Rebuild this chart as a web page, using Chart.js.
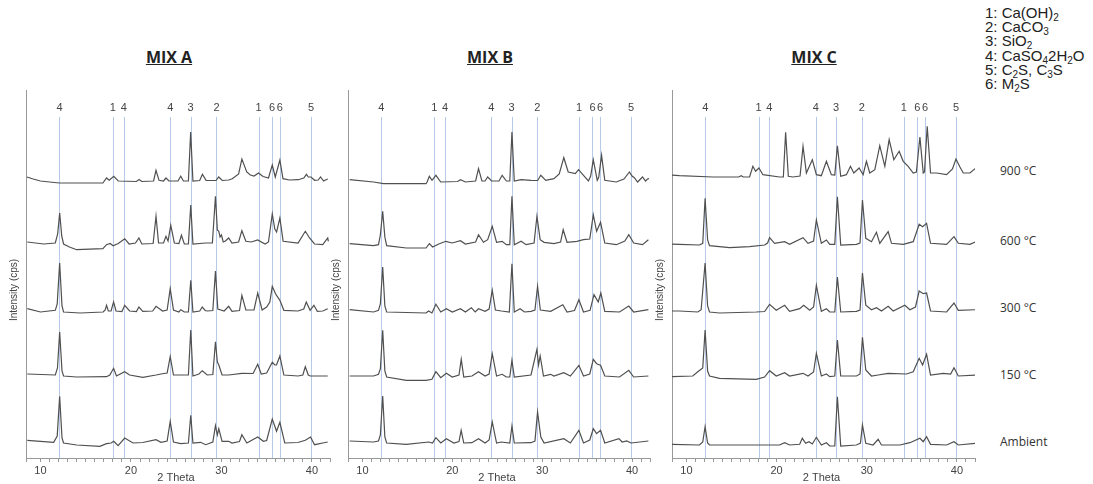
<!DOCTYPE html>
<html><head><meta charset="utf-8">
<script src="https://cdn.jsdelivr.net/npm/chart.js@4.4.1/dist/chart.umd.min.js"></script>
<style>
html,body{margin:0;padding:0;background:#fff;}
body{width:1093px;height:484px;position:relative;overflow:hidden;font-family:"Liberation Sans",Arial,sans-serif;}
canvas{position:absolute;top:0;}
.title{position:absolute;top:46px;font:700 16px "Open Sans",sans-serif;text-decoration:underline;color:#222;transform:translateX(-50%);white-space:nowrap;}
.legend{position:absolute;left:985px;top:6px;font:15px "Liberation Sans",Arial,sans-serif;color:#222;line-height:14.2px;white-space:nowrap;}
.legend sub{font-size:10px;vertical-align:-3px;line-height:0;}
.temp{position:absolute;left:1000px;font:12px "Open Sans",sans-serif;color:#333;transform:translateY(-50%);white-space:nowrap;}
</style></head>
<body>
<div class="title" style="left:169px">MIX A</div>
<div class="title" style="left:490px">MIX B</div>
<div class="title" style="left:814px">MIX C</div>
<div class="legend">
<div>1: Ca(OH)<sub>2</sub></div>
<div>2: CaCO<sub>3</sub></div>
<div>3: SiO<sub>2</sub></div>
<div>4: CaSO<sub>4</sub>2H<sub>2</sub>O</div>
<div>5: C<sub>2</sub>S, C<sub>3</sub>S</div>
<div>6: M<sub>2</sub>S</div>
</div>
<div id="temps"></div>
<canvas id="cA"></canvas>
<canvas id="cB"></canvas>
<canvas id="cC"></canvas>
<script>
// ---- DATA (2θ in degrees, intensity, arbitrary units above each trace's baseline) ----
const temperatureLabels = ['Ambient', '150 °C', '300 °C', '600 °C', '900 °C'];
const panelTitles = ['MIX A', 'MIX B', 'MIX C'];
const tickLabelValues = [10, 20, 30, 40];
const refPositions = [12.1, 18.0, 19.2, 24.35, 26.6, 29.45, 34.1, 35.6, 36.45, 39.9];
const refLabels = ['4', '1', '4', '4', '3', '2', '1', '6', '6', '5'];

const mixA_ambient = [[8.54,2.7],[11.46,0.7],[11.85,7],[12.12,46.7],[12.38,5],[12.55,0],[14.0,-2],[16.57,-3.3],[17.3,-0.7],[17.8,0],[18.1,1.7],[18.58,-2.7],[19.31,5],[20.22,0],[21.3,0.5],[22.77,3.3],[23.32,0.7],[24.0,2],[24.34,21.7],[24.7,1],[25.51,-0.7],[26.35,0],[26.61,27.7],[26.85,0],[27.7,0.7],[28.25,-1.7],[29.05,1],[29.34,17.3],[29.55,8],[29.71,14.3],[30.07,1.7],[30.8,1.7],[31.17,0],[32.0,1.5],[32.26,8.3],[32.81,0],[34.01,6],[34.64,1.7],[35.0,2.5],[35.62,24],[36.09,11.7],[36.46,20.7],[37.0,0],[38.47,0.5],[39.27,2.7],[39.85,6],[40.29,-1.7],[41.2,0],[41.75,1]];
const mixA_150 = [[8.54,2],[11.64,1],[11.88,8],[12.12,44],[12.38,5],[12.55,0],[14.0,-1],[17.3,-0.7],[17.66,1],[18.08,7.7],[18.4,0],[19.31,4.3],[19.85,1],[21.31,-1.3],[22.77,1],[23.32,2],[24.0,3],[24.34,19.3],[24.7,1],[25.51,1],[26.35,1],[26.61,46],[26.85,0],[27.52,2],[27.88,5.3],[28.43,1],[29.05,1.5],[29.34,34.3],[29.55,14],[29.71,11],[30.07,1],[30.8,1],[32.26,2.7],[33.5,2.5],[34.01,11.7],[34.4,2],[35.0,3],[35.62,13.7],[35.9,11],[36.09,11],[36.46,20],[36.9,1],[38.47,0],[39.0,1],[39.27,9.3],[39.6,1],[39.82,0],[41.75,0]];
const mixA_300 = [[8.54,3.3],[10.0,0],[11.64,1.7],[11.85,8],[12.12,49],[12.38,6],[12.55,0],[14.38,-1],[16.93,0],[17.15,2],[17.3,6.7],[17.5,1],[17.8,1],[18.08,10],[18.35,1],[19.0,0.5],[19.31,6.7],[19.85,1],[20.6,0.5],[20.88,5],[21.31,0.7],[22.4,1],[22.77,5.7],[23.5,1],[24.0,2],[24.34,23.3],[24.7,2],[25.3,0],[25.51,2.3],[25.9,0],[26.35,0],[26.61,31.7],[26.85,0],[27.6,1],[27.88,5],[28.2,1.5],[28.43,1],[29.05,1.5],[29.34,41],[29.6,3],[30.3,1],[30.8,5.7],[31.17,0.7],[32.0,1.5],[32.26,16.7],[32.7,2],[33.6,2],[34.01,19],[34.5,2],[35.0,5],[35.35,10],[35.62,25.7],[35.99,18],[36.46,11.7],[36.9,1.7],[38.47,1],[39.1,3],[39.38,10],[39.8,1.7],[40.22,6.7],[40.6,0.7],[41.2,1],[41.75,3.3]];
const mixA_600 = [[8.54,2],[10.36,0],[11.64,1],[11.9,10],[12.12,31],[12.35,8],[12.55,0],[13.2,-3],[14.0,-5.7],[16.9,-4.7],[17.3,-0.7],[17.7,0.5],[18.03,-1.7],[18.6,0.5],[19.31,5.3],[19.8,0],[20.5,1],[20.88,6],[21.2,0],[22.45,0.5],[22.77,27.7],[23.05,1],[23.6,1],[23.87,7.7],[24.1,3],[24.4,18.7],[24.8,1],[25.3,0.5],[25.58,8.7],[25.9,0],[26.35,0],[26.61,39],[26.85,0],[28.25,1],[29.0,1],[29.34,47.7],[29.55,14],[29.71,12.7],[29.85,7],[30.0,9],[30.2,2],[30.44,3],[30.8,6],[31.17,1],[31.9,2],[32.26,13.3],[32.7,2.7],[33.3,2],[34.01,4],[34.82,0],[35.2,2],[35.62,30],[35.9,15],[36.1,12],[36.46,26],[36.82,2.7],[38.47,1],[39.27,12.7],[39.74,6],[40.29,0],[41.2,-0.7],[41.75,6],[41.82,2.7]];
const mixA_900 = [[8.5,5],[9.2,3],[10.0,1],[11.0,0],[12.1,-1],[16.9,-1],[17.3,4],[17.6,1.7],[18.1,5.7],[18.6,1],[20.6,0.5],[20.9,2.5],[21.2,0.5],[22.5,1],[22.77,11.7],[23.1,1.7],[23.6,1],[23.87,4],[24.2,1],[25.2,1],[25.5,5.7],[25.8,1],[26.35,1],[26.6,50],[26.85,1],[27.6,1.5],[27.9,7.7],[28.3,1.7],[29.4,1.5],[29.7,5],[30.1,1.5],[30.8,2],[31.2,3.3],[31.9,8],[32.26,23],[32.8,10],[33.2,7],[33.6,6],[34.1,9],[34.6,5.5],[35.2,4],[35.62,17],[35.95,5],[36.46,22],[36.8,3.3],[37.5,2],[38.5,2.3],[39.1,4],[39.4,7.7],[39.6,5],[39.9,5],[40.3,1.7],[40.7,2],[40.95,5],[41.3,1],[41.5,2],[41.75,3]];

const mixB_ambient = [[8.58,2],[11.24,1],[11.79,2],[12.0,8],[12.26,47],[12.5,6],[12.7,0],[14.89,-1.3],[17.37,1],[17.8,0],[18.18,5.3],[18.72,0],[19.34,4.3],[20.18,0],[20.75,1.5],[20.99,12.7],[21.28,0],[22.19,0.3],[22.92,4.3],[23.65,0],[24.1,3],[24.45,21],[24.93,0],[25.47,1],[26.4,0],[26.64,17],[26.9,0],[28.76,0.3],[29.2,2],[29.49,31],[29.85,6],[30.22,0],[32.41,4.3],[33.14,0],[34.09,12.7],[34.6,0],[35.3,3],[35.69,14.3],[36.06,9.3],[36.5,12.7],[36.97,0],[38.54,4.3],[38.9,1],[39.42,2],[39.89,0],[41.82,2]];
const mixB_150 = [[8.58,1],[11.24,1],[11.79,2.7],[12.0,8],[12.26,46.7],[12.5,6],[12.7,0],[14.89,-3.3],[17.08,-3.3],[17.74,-2.3],[18.18,5.3],[18.72,-0.7],[19.34,3.7],[20.0,0],[20.75,2],[21.0,17.7],[21.28,0],[22.19,1],[22.92,5.3],[23.65,1],[24.1,3],[24.45,23.3],[24.93,1],[25.55,2.7],[26.02,0],[26.4,0],[26.64,16.7],[26.9,0],[28.76,2],[29.42,27.7],[29.6,12],[29.78,21],[30.15,1],[30.95,2.7],[31.31,1],[32.41,4.3],[33.14,1],[34.09,11.7],[34.6,1],[35.3,3],[35.69,17.7],[36.06,13.3],[36.5,11.7],[36.97,1],[38.61,0],[39.64,6.7],[40.18,0],[41.82,1]];
const mixB_300 = [[8.58,2.3],[11.24,0],[11.79,1.7],[12.0,8],[12.26,45],[12.5,6],[12.7,0],[17.08,-1],[17.37,1],[17.74,-1],[18.18,7.7],[18.72,0],[19.34,3.3],[20.0,0],[20.91,3.3],[21.46,0],[22.12,4.3],[22.55,0],[22.92,3.3],[23.65,0.7],[24.1,3],[24.45,21.7],[24.8,2],[25.47,1],[26.35,0],[26.64,48.3],[26.9,0],[27.55,3.3],[28.03,0],[28.76,0.7],[29.2,2],[29.49,25.7],[29.8,2],[30.95,0.7],[32.3,7.3],[32.77,0],[33.6,1.5],[34.09,12.3],[34.6,0],[35.33,1.7],[35.77,17.3],[36.24,10],[36.53,19],[36.97,0.7],[38.61,0],[39.64,6],[40.18,0],[41.82,2.3]];
const mixB_600 = [[8.58,-0.7],[11.24,-2.7],[11.79,-1.7],[12.0,8],[12.26,31.7],[12.5,6],[12.7,-2.7],[14.89,-5],[17.08,-5],[17.45,-0.7],[17.81,-4],[18.5,-1],[19.27,1.7],[20.0,0],[20.91,2.3],[21.46,-1],[22.6,1],[22.92,8.3],[23.47,0.7],[23.94,3.3],[24.45,16.7],[24.93,0.7],[25.55,1.7],[26.02,-1.7],[26.4,-1.7],[26.64,46.7],[26.9,-1.7],[27.66,1.7],[28.21,-1.7],[29.1,0],[29.42,26.7],[29.78,3.3],[30.22,0.7],[31.31,-0.7],[32.05,1],[32.34,13.3],[32.77,0.7],[33.87,1.7],[34.6,3.3],[35.3,4],[35.69,28.3],[36.06,11.7],[36.5,20.7],[36.97,0],[38.25,-1.7],[39.2,2],[39.64,8.3],[40.18,0],[41.17,-1.7],[41.82,3.3]];
const mixB_900 = [[8.58,2.3],[11.24,0],[12.34,-1.7],[17.08,-1.7],[17.2,0],[17.45,5.7],[17.75,1.7],[18.18,6.7],[18.72,0],[20.6,0.5],[20.91,2.3],[21.46,0],[22.6,1],[22.92,13.3],[23.3,1],[23.65,1],[23.94,5],[24.38,1],[25.2,1],[25.55,6.7],[26.02,1],[26.4,1],[26.64,50],[26.9,1],[27.66,2.3],[28.76,1.7],[29.5,1.5],[29.85,6.7],[30.4,1.7],[31.31,3.3],[31.9,8],[32.41,24.3],[32.9,10],[33.69,8.3],[34.05,12.3],[34.6,6.7],[35.15,1],[35.4,6],[35.69,22.3],[36.13,1.7],[36.3,5],[36.61,26.7],[36.97,1.7],[38.25,0],[39.1,3],[39.71,10],[40.0,6],[40.26,4.3],[40.62,0],[41.17,5],[41.5,1],[41.72,3],[41.9,3.3]];

const mixC_ambient = [[8.3,0.7],[11.44,0],[11.81,3],[12.07,18.3],[12.35,2],[12.56,0],[20.33,0],[20.89,2.3],[21.44,0],[22.56,0.7],[22.85,6.7],[23.22,1.7],[23.59,3.3],[23.96,1],[24.41,7.7],[24.96,0],[25.52,2.3],[25.89,-1],[26.45,-1],[26.74,48.3],[27.11,-1],[28.85,0],[29.3,2],[29.52,20],[29.89,1.7],[30.7,0],[31.26,5.7],[31.63,0],[33.67,0],[34.78,2.3],[35.89,6.7],[36.26,3.3],[36.63,8.3],[37.07,0.7],[38.85,0],[39.67,3.3],[40.15,0],[42.1,1.7]];
const mixC_150 = [[8.3,-0.7],[10.7,0],[11.26,4.3],[11.81,8],[12.07,46],[12.35,5],[12.56,0],[13.67,-2.3],[17.74,-3.3],[18.67,-1],[19.22,5.3],[19.96,0],[20.89,3.3],[21.44,0],[22.93,2.7],[23.48,0],[24.1,4],[24.41,22.7],[24.96,0],[25.52,2],[25.89,-0.7],[26.45,0],[26.74,36],[27.11,0],[28.85,0],[29.25,2],[29.52,38.7],[29.89,6],[30.52,0],[31.26,1],[32.37,2.7],[34.41,2],[35.15,4.3],[35.81,17.7],[36.19,11],[36.63,21.7],[37.07,1],[38.48,2.7],[39.3,2],[39.67,8.3],[40.15,0],[42.1,1]];
const mixC_300 = [[8.3,1],[9.22,1],[11.26,0],[11.63,2.3],[12.07,49],[12.35,6],[12.56,0],[13.67,-1],[17.74,0],[18.67,0.5],[19.22,7.7],[19.96,1.7],[20.89,6.7],[21.44,0.7],[22.56,3.3],[23.0,6.7],[23.67,1.7],[24.1,5],[24.41,26.7],[24.96,0.7],[25.52,3.3],[25.89,0],[26.45,0],[26.74,35],[27.11,0],[28.85,0.7],[29.25,2],[29.52,39],[29.89,6.7],[30.52,2.3],[31.07,4.3],[31.63,1],[32.37,5.7],[32.93,1],[34.22,6.7],[34.78,2.3],[35.4,5],[35.81,21],[36.26,18.3],[36.63,19],[37.07,1],[38.85,0],[39.67,9],[40.15,1.7],[42.1,2.3]];
const mixC_600 = [[8.3,1],[9.22,0.7],[11.44,0],[11.81,1.7],[12.07,46.7],[12.35,5],[12.56,-0.7],[14.78,-2.7],[17.0,-1.7],[18.67,0],[19.0,2],[19.22,7.3],[19.78,1.7],[20.89,3.3],[21.44,0.7],[22.93,7.3],[23.48,1.7],[24.1,4],[24.41,25],[24.96,1.7],[25.52,5],[25.89,0.7],[26.45,0.7],[26.74,48.3],[27.11,0],[28.85,0.7],[29.25,2],[29.52,45],[29.89,6.7],[30.52,3.3],[31.07,12.7],[31.44,1.7],[32.37,13.3],[32.74,1.7],[34.04,0.7],[35.15,3.3],[35.81,20.7],[36.19,18.3],[36.63,21.7],[37.07,1.7],[38.85,0.7],[39.67,8.3],[40.15,1.7],[41.44,0.7],[42.1,3.3]];
const mixC_900 = [[8.3,2],[9.22,1.3],[12.93,0],[15.8,0],[16.07,1.3],[16.3,0],[17.0,0],[17.37,10.7],[17.67,5.7],[18.04,9],[18.48,2.3],[20.33,0],[20.75,0],[21.0,44.7],[21.3,0.7],[21.81,0],[22.6,1],[22.93,30.7],[23.3,4],[23.96,17.3],[24.41,2.3],[24.96,1.3],[25.52,15.7],[26.07,2.3],[26.45,2],[26.74,31.3],[27.11,0.7],[27.74,2.3],[28.19,10.7],[28.56,4],[29.15,9],[29.59,2.3],[29.96,15.7],[30.33,4],[30.89,7.3],[31.44,31.3],[32.0,10.7],[32.48,37.3],[33.0,17.3],[33.59,25.7],[34.04,15.7],[34.59,10.7],[35.15,4],[35.5,5],[35.89,40],[36.26,4],[36.4,5],[36.7,50.7],[37.07,4],[37.74,4],[38.85,2.3],[39.5,8],[39.89,18],[40.33,10],[40.7,4],[41.44,4],[42.1,9]];

// ---- LAYOUT / STYLE ----
const X_MIN = 8.4, X_MAX = 42, Y_MAX = 368;
const REF_TOP = 341, REF_LABEL = 350;
const temperatureY = [441, 374, 307, 240, 170];
const panels = [
  {canvas:'cA', left:0,   width:332, traces:[mixA_ambient, mixA_150, mixA_300, mixA_600, mixA_900], offsets:[15, 82, 146, 214, 276]},
  {canvas:'cB', left:322, width:330, traces:[mixB_ambient, mixB_150, mixB_300, mixB_600, mixB_900], offsets:[15, 81, 146, 215, 276]},
  {canvas:'cC', left:646, width:331, traces:[mixC_ambient, mixC_150, mixC_300, mixC_600, mixC_900], offsets:[13, 82, 146, 213, 281]}
];

const temps = document.getElementById('temps');
temperatureLabels.forEach((t, i) => {
  const d = document.createElement('div');
  d.className = 'temp'; d.textContent = t; d.style.top = temperatureY[i] + 'px';
  temps.appendChild(d);
});

const xrdDecor = {
  id: 'xrdDecor',
  beforeDatasetsDraw(chart) {
    const {ctx, scales: {x, y}} = chart;
    ctx.save();
    ctx.strokeStyle = 'rgba(165,190,228,0.8)';
    ctx.lineWidth = 1;
    refPositions.forEach(p => {
      const px = Math.round(x.getPixelForValue(p)) + 0.5;
      ctx.beginPath();
      ctx.moveTo(px, y.getPixelForValue(0));
      ctx.lineTo(px, y.getPixelForValue(REF_TOP));
      ctx.stroke();
    });
    ctx.restore();
  },
  afterDraw(chart) {
    const {ctx, chartArea, scales: {x, y}} = chart;
    ctx.save();
    ctx.fillStyle = '#444';
    ctx.font = '11px "Liberation Sans", Arial, sans-serif';
    ctx.textAlign = 'center';
    ctx.textBaseline = 'middle';
    refPositions.forEach((p, i) => {
      ctx.fillText(refLabels[i], x.getPixelForValue(p), y.getPixelForValue(REF_LABEL));
    });
    ctx.fillText('2 Theta', (chartArea.left + chartArea.right) / 2 - 2, 478);
    ctx.translate(chartArea.left - 12, 290);
    ctx.rotate(-Math.PI / 2);
    ctx.font = '10px "Liberation Sans", Arial, sans-serif';
    ctx.fillText('Intensity (cps)', 0, 0);
    ctx.restore();
  }
};

panels.forEach(p => {
  const cv = document.getElementById(p.canvas);
  cv.width = p.width; cv.height = 484;
  cv.style.left = p.left + 'px';
  cv.style.width = p.width + 'px'; cv.style.height = '484px';
  new Chart(cv, {
    type: 'line',
    data: {
      datasets: p.traces.map((tr, i) => ({
        label: temperatureLabels[i],
        data: tr.map(([t, v]) => ({x: t, y: v + p.offsets[i]})),
        borderColor: '#505050',
        borderWidth: 1.2,
        pointRadius: 0,
        tension: 0,
        fill: false
      }))
    },
    options: {
      responsive: false,
      animation: false,
      devicePixelRatio: 1,
      layout: {padding: {top: 90, left: 0, right: 0, bottom: 0}},
      plugins: {legend: {display: false}, tooltip: {enabled: false}},
      scales: {
        x: {
          type: 'linear', min: X_MIN, max: X_MAX,
          afterFit(s) { s.height = 26; },
          border: {display: true, color: '#999', width: 1},
          grid: {display: true, drawOnChartArea: false, drawTicks: true, tickLength: 4, color: '#999'},
          ticks: {
            stepSize: 1, autoSkip: false, maxRotation: 0, padding: 2,
            color: '#444', font: {size: 11, family: '"Liberation Sans", Arial, sans-serif'},
            callback: v => tickLabelValues.includes(v) ? String(v) : ''
          }
        },
        y: {
          min: 0, max: Y_MAX,
          afterFit(s) { s.width = 26; },
          border: {display: true, color: '#999', width: 1},
          grid: {display: false},
          ticks: {display: false}
        }
      }
    },
    plugins: [xrdDecor]
  });
});
</script>
</body></html>
